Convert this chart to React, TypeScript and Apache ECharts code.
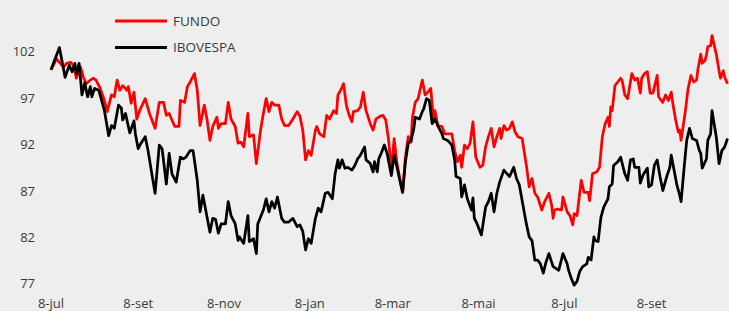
import { useEffect, useRef } from "react";
import * as echarts from "echarts";

// Axis definitions
const START_DATE = Date.UTC(2018, 6, 8); // 8-jul
const DAY_COUNT = 482;
const MONTHS_PT = ["jan", "fev", "mar", "abr", "mai", "jun", "jul", "ago", "set", "out", "nov", "dez"];
const LABEL_MONTHS = [0, 2, 4, 6, 8, 10]; // jan, mar, mai, jul, set, nov
const LABEL_DAY = 8;
const Y_MIN = 77;
const Y_MAX = 107;
const Y_STEP = 5;

const SERIES_NAMES = ["FUNDO", "IBOVESPA"];

// [day index from 8-jul, value]
const FUNDO: [number, number][] = [
  [0,100.0],[4,101.2],[6,100.8],[9,100.3],[11,100.7],[14,100.8],[16,100.5],[18,99.1],[21,100.3],[23,99.2],[25,98.5],[28,98.9],[30,99.1],[32,98.9],[35,98.0],[38,96.7],[40,95.5],[43,97.3],[45,97.1],[47,98.9],[49,97.8],[51,98.3],[54,97.8],[55,98.2],[57,96.4],[59,97.6],[61,94.7],[63,95.6],[67,96.9],[70,95.3],[74,93.7],[77,96.5],[80,96.5],[82,95.1],[84,95.3],[86,94.6],[88,93.9],[91,93.9],[92,96.7],[95,96.5],[97,98.2],[99,98.7],[102,99.6],[104,97.8],[106,94.0],[109,96.2],[111,94.6],[113,92.4],[115,93.9],[118,94.9],[119,93.7],[121,94.2],[124,94.2],[126,96.5],[128,94.7],[131,93.9],[133,92.1],[135,92.2],[137,91.7],[140,95.3],[141,92.8],[144,93.0],[146,89.9],[149,93.5],[151,95.3],[153,96.9],[155,95.5],[157,96.5],[159,96.2],[162,96.2],[164,94.7],[166,94.0],[169,94.0],[172,94.7],[175,95.5],[177,95.0],[179,93.5],[181,90.3],[183,91.3],[185,90.8],[188,93.5],[189,93.9],[191,93.1],[194,92.8],[196,95.1],[198,94.7],[201,95.6],[203,95.3],[204,97.3],[206,97.8],[208,98.5],[210,96.2],[212,95.1],[214,94.4],[215,95.5],[218,95.6],[220,96.0],[222,97.6],[224,95.6],[227,94.2],[229,93.5],[231,94.7],[234,95.0],[236,95.1],[238,94.6],[240,92.5],[242,89.2],[244,92.6],[246,89.9],[248,88.3],[250,86.8],[252,90.6],[254,92.8],[256,92.2],[257,94.9],[259,96.5],[261,96.9],[264,98.9],[266,97.3],[268,97.6],[270,98.0],[272,94.6],[273,95.6],[275,94.0],[278,93.9],[280,93.1],[282,93.1],[285,93.1],[287,91.3],[289,90.1],[291,90.8],[292,89.5],[294,91.9],[296,91.5],[298,92.1],[300,94.4],[302,90.6],[305,89.5],[307,89.7],[309,91.7],[311,92.8],[313,93.7],[315,91.7],[317,92.8],[319,93.7],[320,92.6],[322,94.0],[324,93.5],[326,93.7],[328,94.4],[330,93.3],[332,92.8],[335,92.6],[338,89.7],[340,87.4],[342,88.3],[344,86.7],[346,86.3],[349,84.9],[351,85.8],[354,86.7],[356,85.4],[357,84.0],[358,84.9],[360,85.0],[363,84.9],[364,86.3],[367,84.7],[369,84.3],[371,83.3],[372,84.5],[374,84.3],[377,88.1],[379,86.8],[382,86.8],[383,85.9],[385,88.8],[388,89.0],[390,89.5],[392,92.8],[394,94.2],[396,94.9],[397,93.9],[398,96.0],[399,95.6],[401,98.3],[402,98.5],[405,99.1],[406,98.9],[408,97.3],[410,96.9],[413,99.6],[415,98.9],[417,99.1],[419,97.5],[420,99.1],[422,99.6],[424,99.8],[426,97.5],[428,97.5],[431,99.4],[432,97.1],[435,96.5],[437,97.3],[439,96.7],[441,97.6],[442,96.5],[444,94.7],[446,93.3],[447,93.5],[448,92.4],[451,95.5],[453,98.0],[455,99.4],[457,98.7],[459,98.9],[460,100.1],[462,101.7],[463,100.7],[465,101.0],[466,101.6],[467,102.5],[469,102.6],[470,103.7],[473,101.7],[475,99.9],[476,99.1],[478,99.9],[479,99.2],[481,98.5]
];

const IBOVESPA: [number, number][] = [
  [0,100.0],[6,102.4],[10,99.2],[13,100.5],[15,99.8],[17,100.7],[18,99.6],[20,100.7],[22,97.3],[24,98.6],[26,97.1],[28,98.2],[29,97.1],[31,98.0],[34,97.8],[36,96.7],[38,95.6],[41,92.9],[43,94.0],[45,93.7],[48,96.2],[50,95.9],[51,94.6],[53,95.3],[56,93.2],[59,94.5],[60,93.1],[62,91.5],[64,92.1],[67,92.8],[69,91.3],[72,88.5],[74,86.7],[77,91.9],[79,91.5],[82,87.7],[84,91.0],[86,88.8],[89,87.9],[92,90.6],[94,90.4],[96,90.6],[99,91.3],[101,91.3],[104,88.1],[106,84.7],[108,86.5],[110,84.9],[113,82.5],[115,84.0],[117,83.9],[119,82.4],[121,83.4],[124,83.4],[126,85.8],[128,84.3],[131,83.4],[133,81.6],[134,82.0],[137,81.3],[140,84.3],[141,81.5],[144,81.8],[146,80.2],[147,83.4],[151,84.9],[153,86.1],[155,84.7],[157,85.8],[159,85.1],[161,86.3],[164,84.0],[166,83.6],[169,83.6],[172,84.0],[175,83.1],[177,83.3],[179,82.6],[181,80.6],[183,81.8],[185,81.3],[188,84.0],[190,85.1],[192,84.7],[195,86.7],[197,86.8],[200,86.1],[202,88.8],[204,90.3],[205,89.4],[207,90.3],[209,89.4],[211,89.5],[214,89.2],[216,89.7],[218,90.4],[220,90.8],[223,91.7],[224,90.3],[227,89.9],[229,89.0],[230,90.1],[232,89.0],[233,90.4],[235,91.1],[237,91.9],[239,91.0],[242,88.6],[244,90.8],[246,89.5],[248,88.1],[250,86.8],[252,90.1],[254,92.1],[256,92.4],[258,93.7],[259,94.9],[262,94.7],[264,95.5],[265,95.8],[267,96.9],[269,96.7],[271,94.2],[273,94.7],[275,94.0],[278,93.1],[279,92.6],[282,92.4],[285,91.9],[287,90.3],[288,88.5],[291,88.3],[292,86.3],[294,87.6],[296,86.1],[298,85.3],[299,84.9],[300,86.2],[301,84.0],[303,83.4],[306,82.2],[309,85.2],[311,85.8],[313,86.7],[315,84.7],[317,86.7],[319,87.9],[322,89.2],[323,89.0],[326,88.5],[329,89.5],[331,88.3],[333,87.6],[335,85.9],[338,83.4],[340,82.0],[342,81.6],[344,79.5],[346,79.5],[348,79.1],[350,78.1],[352,79.3],[354,80.2],[357,78.8],[359,78.6],[361,78.4],[364,80.2],[367,79.1],[368,78.4],[370,77.5],[372,76.8],[374,77.2],[376,78.3],[378,78.8],[381,79.1],[382,79.8],[384,79.5],[386,82.0],[387,81.6],[389,81.5],[391,84.1],[393,85.2],[396,86.1],[397,87.4],[399,87.7],[400,89.7],[403,90.1],[405,90.6],[408,88.8],[410,88.1],[412,90.3],[414,90.4],[415,89.5],[418,89.5],[419,87.8],[421,88.7],[424,89.4],[425,87.4],[427,87.6],[429,89.7],[431,90.3],[433,88.5],[435,87.0],[438,88.6],[440,89.5],[441,90.8],[443,89.2],[445,87.6],[447,86.5],[448,85.8],[450,89.2],[452,92.4],[454,93.7],[456,92.6],[459,92.4],[461,91.3],[462,91.0],[463,89.4],[466,90.4],[467,92.4],[469,93.1],[470,95.6],[473,92.8],[475,89.9],[477,91.3],[479,91.7],[481,92.6]
];

const CATEGORIES: string[] = Array.from({ length: DAY_COUNT }, (_, i) =>
  new Date(START_DATE + i * 86400000).toISOString().slice(0, 10)
);

const parseDay = (v: string) => new Date(v + "T00:00:00Z");

const FONT = "'Open Sans', 'Noto Sans', sans-serif";
const TEXT_COLOR = "#3a3a3a";

export default function App() {
  const ref = useRef<HTMLDivElement>(null);

  useEffect(() => {
    if (!ref.current) return;
    const chart = echarts.init(ref.current, null, { renderer: "svg" });
    chart.setOption({
      animation: false,
      backgroundColor: "#eeeeef",
      textStyle: { fontFamily: FONT },
      grid: { left: 51, right: 1.5, top: 4.9, bottom: 27.7, containLabel: false },
      legend: {
        orient: "vertical",
        left: 110,
        top: 9,
        icon: "rect",
        itemWidth: 52,
        itemHeight: 3,
        itemGap: 12.4,
        data: SERIES_NAMES,
        textStyle: { fontFamily: FONT, fontSize: 13.5, color: TEXT_COLOR, padding: [0, 0, 0, 1] },
      },
      xAxis: {
        type: "category",
        data: CATEGORIES,
        boundaryGap: false,
        axisLine: { show: false },
        axisTick: { show: false },
        splitLine: { show: false },
        axisLabel: {
          margin: 13,
          fontFamily: FONT,
          fontSize: 13,
          color: TEXT_COLOR,
          interval: (_i: number, v: string) => {
            const d = parseDay(v);
            return d.getUTCDate() === LABEL_DAY && LABEL_MONTHS.includes(d.getUTCMonth());
          },
          formatter: (v: string) => {
            const d = parseDay(v);
            return `${d.getUTCDate()}-${MONTHS_PT[d.getUTCMonth()]}`;
          },
        },
      },
      yAxis: {
        type: "value",
        min: Y_MIN,
        max: Y_MAX,
        interval: Y_STEP,
        axisLine: { show: false },
        axisTick: { show: false },
        splitLine: { show: false },
        axisLabel: {
          margin: 16,
          fontFamily: FONT,
          fontSize: 13,
          color: TEXT_COLOR,
          formatter: (v: number) => (v >= Y_MAX ? "" : String(v)),
        },
      },
      series: [
        {
          name: SERIES_NAMES[0],
          type: "line",
          data: FUNDO,
          symbol: "none",
          clip: false,
          color: "#ff0000",
          lineStyle: { width: 2.75, color: "#ff0000", join: "round" },
        },
        {
          name: SERIES_NAMES[1],
          type: "line",
          data: IBOVESPA,
          symbol: "none",
          clip: false,
          color: "#000000",
          lineStyle: { width: 2.75, color: "#000000", join: "round" },
        },
      ],
    });
    return () => chart.dispose();
  }, []);

  return (
    <div
      ref={ref}
      style={{ position: "absolute", left: 0, top: 0, width: 729, height: 311 }}
    />
  );
}
